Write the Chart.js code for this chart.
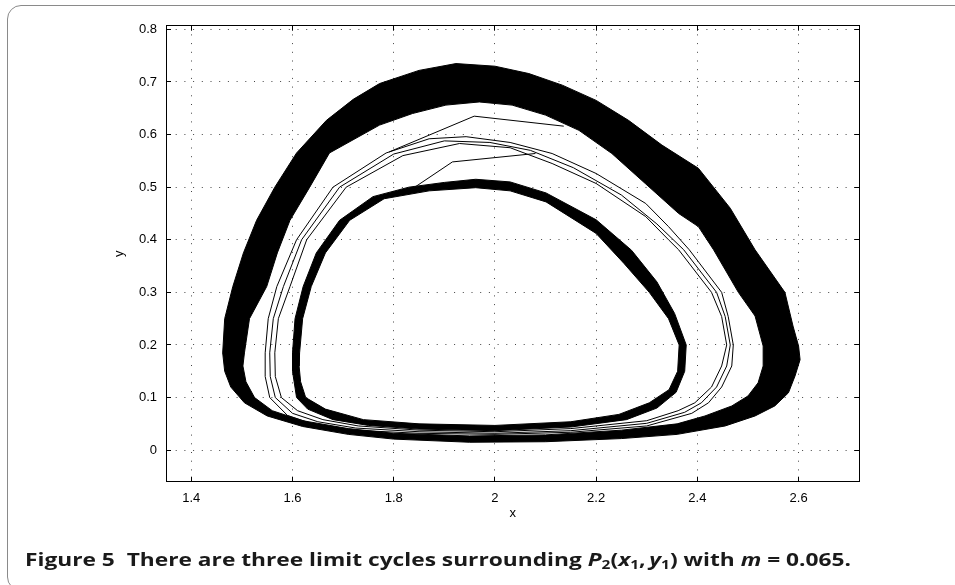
<!DOCTYPE html>
<html>
<head>
<meta charset="utf-8">
<title>Figure 5</title>
<script src="https://cdn.jsdelivr.net/npm/chart.js@4.4.1/dist/chart.umd.min.js"></script>
<style>
  html, body { margin: 0; padding: 0; background: #fff; width: 955px; height: 585px; overflow: hidden; }
  #frame { position: absolute; left: 7px; top: 5px; width: 980px; height: 586px; border: 1.5px solid #8a8a8a; border-radius: 14px; box-sizing: border-box; }
  #chart { position: absolute; left: 0; top: 0; }
  #caption { position: absolute; left: 25px; top: 549px; line-height: 21px; font-family: "Open Sans", "Noto Sans", sans-serif; font-weight: bold; font-size: 17px; color: #1a1a1a; white-space: nowrap; transform-origin: 0 0; }
  #caption i { font-style: italic; }
  #caption sub { font-size: 68%; vertical-align: -0.3em; line-height: 0; }
</style>
</head>
<body>
<div id="frame"></div>
<canvas id="chart" width="955" height="585"></canvas>
<div id="caption">Figure 5&nbsp;&nbsp;There are three limit cycles surrounding <i>P</i><sub>2</sub>(<i>x</i><sub>1</sub>,&thinsp;<i>y</i><sub>1</sub>) with <i>m</i> = 0.065.</div>
<script>
// Valores (x, y). Cada ciclo va en sentido horario desde su punto mas a la izquierda.
const xTicks = [1.4, 1.6, 1.8, 2, 2.2, 2.4, 2.6];
const yTicks = [0, 0.1, 0.2, 0.3, 0.4, 0.5, 0.6, 0.7, 0.8];

// ciclo exterior: borde de fuera y borde de dentro de la banda
const outerCycleOuter = [
  [1.462, 0.185], [1.466, 0.25], [1.482, 0.311], [1.503, 0.375], [1.529, 0.437], [1.565, 0.5],
  [1.608, 0.565], [1.667, 0.627], [1.72, 0.667], [1.772, 0.697], [1.85, 0.722], [1.923, 0.735],
  [2.0, 0.73], [2.067, 0.716], [2.133, 0.694], [2.2, 0.665], [2.264, 0.627], [2.33, 0.58],
  [2.402, 0.536], [2.465, 0.46], [2.514, 0.381], [2.573, 0.3], [2.589, 0.236], [2.6, 0.198],
  [2.603, 0.172], [2.593, 0.141], [2.58, 0.109], [2.553, 0.084], [2.514, 0.065], [2.455, 0.046],
  [2.36, 0.03], [2.25, 0.022], [2.1, 0.016], [1.95, 0.015], [1.8, 0.021], [1.71, 0.03],
  [1.62, 0.045], [1.55, 0.065], [1.505, 0.09], [1.478, 0.12], [1.466, 0.15]
];
const outerCycleInner = [
  [1.505, 0.185], [1.515, 0.25], [1.549, 0.311], [1.57, 0.375], [1.595, 0.437], [1.634, 0.5],
  [1.673, 0.565], [1.772, 0.618], [1.837, 0.64], [1.903, 0.656], [1.969, 0.662], [2.034, 0.656],
  [2.1, 0.637], [2.166, 0.608], [2.231, 0.564], [2.297, 0.507], [2.363, 0.45], [2.402, 0.425],
  [2.432, 0.381], [2.481, 0.3], [2.514, 0.255], [2.53, 0.198], [2.53, 0.16], [2.52, 0.128],
  [2.5, 0.103], [2.468, 0.084], [2.415, 0.065], [2.36, 0.05], [2.25, 0.038], [2.1, 0.029],
  [1.95, 0.027], [1.8, 0.032], [1.71, 0.041], [1.62, 0.056], [1.56, 0.075], [1.525, 0.1],
  [1.508, 0.13], [1.502, 0.16]
];

// ciclo del medio: tres trazas finas
const middleCycleOuter = [
  [1.546, 0.185], [1.552, 0.25], [1.569, 0.311], [1.608, 0.4], [1.68, 0.5], [1.785, 0.565],
  [1.87, 0.592], [1.943, 0.596], [2.03, 0.585], [2.113, 0.564], [2.2, 0.526], [2.298, 0.469],
  [2.343, 0.425], [2.384, 0.381], [2.448, 0.3], [2.461, 0.254], [2.471, 0.2], [2.468, 0.16],
  [2.448, 0.12], [2.422, 0.09], [2.389, 0.07], [2.3, 0.046], [2.15, 0.034], [2.0, 0.03],
  [1.85, 0.032], [1.72, 0.038], [1.64, 0.05], [1.59, 0.066], [1.555, 0.1], [1.546, 0.14]
];
const middleCycleMid = [
  [1.555, 0.185], [1.562, 0.25], [1.582, 0.311], [1.618, 0.4], [1.693, 0.5], [1.8, 0.563],
  [1.9, 0.588], [1.99, 0.585], [2.07, 0.57], [2.155, 0.537], [2.25, 0.485], [2.32, 0.43],
  [2.373, 0.381], [2.438, 0.3], [2.455, 0.254], [2.465, 0.2], [2.458, 0.16], [2.438, 0.12],
  [2.408, 0.09], [2.375, 0.072], [2.3, 0.051], [2.15, 0.037], [2.0, 0.032], [1.85, 0.035],
  [1.725, 0.042], [1.65, 0.054], [1.6, 0.07], [1.566, 0.1], [1.556, 0.14]
];
const middleCycleInner = [
  [1.565, 0.185], [1.572, 0.25], [1.595, 0.311], [1.628, 0.4], [1.706, 0.5], [1.818, 0.56],
  [1.93, 0.583], [2.03, 0.575], [2.113, 0.545], [2.2, 0.507], [2.298, 0.444], [2.343, 0.4],
  [2.363, 0.381], [2.428, 0.3], [2.448, 0.254], [2.458, 0.2], [2.448, 0.16], [2.428, 0.12],
  [2.395, 0.09], [2.362, 0.075], [2.3, 0.056], [2.15, 0.041], [2.0, 0.035], [1.85, 0.038],
  [1.73, 0.046], [1.66, 0.058], [1.61, 0.075], [1.578, 0.1], [1.566, 0.14]
];

// ciclo interior: banda estrecha
const innerCycleOuter = [
  [1.6, 0.185], [1.605, 0.25], [1.621, 0.311], [1.647, 0.375], [1.693, 0.437], [1.759, 0.482],
  [1.83, 0.5], [1.9, 0.509], [1.962, 0.515], [2.03, 0.51], [2.101, 0.489], [2.2, 0.438],
  [2.27, 0.38], [2.32, 0.32], [2.355, 0.26], [2.378, 0.2], [2.375, 0.15], [2.358, 0.11],
  [2.32, 0.08], [2.26, 0.058], [2.15, 0.044], [2.0, 0.037], [1.85, 0.04], [1.75, 0.047],
  [1.68, 0.058], [1.63, 0.078], [1.608, 0.1], [1.6, 0.15]
];
const innerCycleInner = [
  [1.614, 0.185], [1.62, 0.25], [1.637, 0.311], [1.665, 0.375], [1.713, 0.437], [1.781, 0.478],
  [1.87, 0.493], [1.962, 0.499], [2.03, 0.493], [2.101, 0.472], [2.2, 0.412], [2.255, 0.355],
  [2.305, 0.3], [2.343, 0.25], [2.364, 0.2], [2.361, 0.15], [2.344, 0.115], [2.305, 0.09],
  [2.245, 0.068], [2.15, 0.054], [2.0, 0.047], [1.85, 0.05], [1.74, 0.058], [1.665, 0.078],
  [1.626, 0.1], [1.616, 0.13], [1.613, 0.16]
];

// transitorios rectos entre ciclos
const transientLow = [[1.837, 0.497], [1.916, 0.548], [2.08, 0.564]];
const transientHigh = [[1.791, 0.567], [1.959, 0.635], [2.136, 0.616]];

(function () {
  "use strict";

  const FONT = { family: "'Liberation Sans', Arial, sans-serif", size: 13 };

  function pts(list) {
    return list.map((p) => ({ x: p[0], y: p[1] }));
  }

  function closed(list) {
    return list.concat([list[0]]);
  }

  // poligono con agujero: vuelta de fuera + vuelta de dentro al reves
  function band(outer, inner) {
    return closed(outer).concat([inner[0]], inner.slice(1).reverse(), [inner[0]]);
  }

  function fixedTicks(values) {
    return (scale) => {
      scale.ticks = values.map((v) => ({ value: v }));
    };
  }

  const tickText = (v) => String(+v.toFixed(2));

  const lineBase = {
    showLine: true,
    pointRadius: 0,
    borderColor: "#000",
    borderWidth: 1,
    tension: 0,
    fill: false,
  };

  const mainGrid = { color: "#444", lineWidth: 1, drawTicks: true, tickLength: -5, tickColor: "#000", tickWidth: 1 };
  const boxGrid = { drawOnChartArea: false, drawTicks: true, tickLength: -5, tickColor: "#000", tickWidth: 1 };
  const boxBorder = { display: true, color: "#000", width: 1 };
  const dotBorder = { display: true, color: "#000", width: 1, dash: [1, 7.7] };

  function init() {
    const ctx = document.getElementById("chart");
    new Chart(ctx, {
      type: "scatter",
      data: {
        datasets: [
          { ...lineBase, data: pts(band(outerCycleOuter, outerCycleInner)), fill: "shape", backgroundColor: "#000" },
          { ...lineBase, data: pts(closed(middleCycleOuter)) },
          { ...lineBase, data: pts(closed(middleCycleMid)) },
          { ...lineBase, data: pts(closed(middleCycleInner)) },
          { ...lineBase, data: pts(band(innerCycleOuter, innerCycleInner)), fill: "shape", backgroundColor: "#000" },
          { ...lineBase, data: pts(transientLow) },
          { ...lineBase, data: pts(transientHigh) },
        ],
      },
      options: {
        responsive: false,
        animation: false,
        events: [],
        layout: { padding: { left: 100, right: 95.7, top: 25.7, bottom: 59.3 } },
        plugins: { legend: { display: false }, tooltip: { enabled: false } },
        scales: {
          x: {
            type: "linear", position: "bottom", min: 1.35, max: 2.72,
            afterBuildTicks: fixedTicks(xTicks),
            afterFit: (s) => { s.height = 44; },
            grid: mainGrid, border: dotBorder,
            ticks: { color: "#000", font: FONT, padding: 14, maxRotation: 0, autoSkip: false, callback: tickText },
            title: { display: true, text: "x", color: "#000", font: FONT, padding: { top: 0, bottom: 4 } },
          },
          y: {
            type: "linear", position: "left", min: -0.06, max: 0.807,
            afterBuildTicks: fixedTicks(yTicks),
            afterFit: (s) => { s.width = 66; },
            grid: mainGrid, border: dotBorder,
            ticks: { color: "#000", font: FONT, padding: 14, autoSkip: false, callback: tickText },
            title: { display: true, text: "y", color: "#000", font: FONT, padding: { top: 12, bottom: 0 } },
          },
          x2: {
            type: "linear", position: "top", min: 1.35, max: 2.72,
            afterBuildTicks: fixedTicks(xTicks),
            afterFit: (s) => { s.height = 0; },
            grid: boxGrid, border: boxBorder, ticks: { display: false },
          },
          y2: {
            type: "linear", position: "right", min: -0.06, max: 0.807,
            afterBuildTicks: fixedTicks(yTicks),
            afterFit: (s) => { s.width = 0; },
            grid: boxGrid, border: boxBorder, ticks: { display: false },
          },
        },
      },
    });

    // ajustar el ancho del pie al de la figura
    const cap = document.getElementById("caption");
    const w = cap.getBoundingClientRect().width;
    cap.style.transform = "scaleX(" + (826 / w) + ")";
  }

  if (document.readyState === "loading") {
    document.addEventListener("DOMContentLoaded", init);
  } else {
    init();
  }
})();
</script>
</body>
</html>
